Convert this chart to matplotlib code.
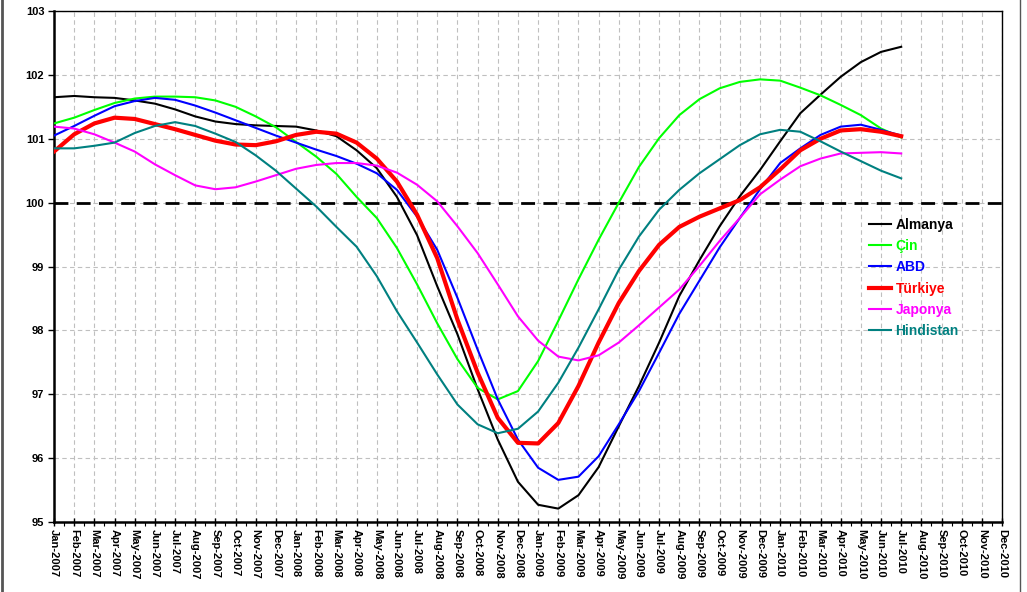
import numpy as np
import matplotlib
matplotlib.use("Agg")
import matplotlib.pyplot as plt
from matplotlib.ticker import MultipleLocator, FixedLocator

plt.rcParams['font.family'] = ['Liberation Sans', 'DejaVu Sans']

# month labels for the whole axis (Jan-2007 .. Dec-2010)
month_names = ['Jan', 'Feb', 'Mar', 'Apr', 'May', 'Jun',
               'Jul', 'Aug', 'Sep', 'Oct', 'Nov', 'Dec']
years = [2007, 2008, 2009, 2010]
tick_labels = ['{}-{}'.format(m, y) for y in years for m in month_names]

# series (Jan-2007 .. Jul-2010)
almanya = [101.65, 101.67, 101.65, 101.64, 101.60, 101.55, 101.46, 101.35, 101.27, 101.23, 101.21, 101.20,
           101.19, 101.13, 101.04, 100.82, 100.54, 100.09, 99.49, 98.69, 97.94, 97.08, 96.29, 95.63,
           95.27, 95.21, 95.42, 95.86, 96.50, 97.13, 97.81, 98.54, 99.10, 99.63, 100.10, 100.51,
           100.96, 101.40, 101.69, 101.97, 102.20, 102.36, 102.44]
cin = [101.24, 101.33, 101.45, 101.56, 101.63, 101.66, 101.66, 101.65, 101.60, 101.50, 101.35, 101.18,
       100.95, 100.72, 100.45, 100.09, 99.76, 99.29, 98.72, 98.11, 97.55, 97.10, 96.92, 97.05,
       97.52, 98.15, 98.80, 99.42, 100.00, 100.56, 101.01, 101.37, 101.62, 101.79, 101.89, 101.93,
       101.91, 101.80, 101.68, 101.53, 101.37, 101.16, 101.02]
abd = [101.05, 101.20, 101.36, 101.51, 101.59, 101.64, 101.61, 101.52, 101.41, 101.29, 101.17, 101.05,
       100.94, 100.83, 100.73, 100.61, 100.46, 100.20, 99.78, 99.26, 98.51, 97.70, 96.92, 96.29,
       95.85, 95.66, 95.71, 96.03, 96.53, 97.05, 97.65, 98.26, 98.78, 99.30, 99.76, 100.21,
       100.62, 100.85, 101.06, 101.19, 101.22, 101.14, 101.05]
turkiye = [100.80, 101.07, 101.24, 101.33, 101.31, 101.23, 101.15, 101.06, 100.97, 100.91, 100.90, 100.96,
           101.06, 101.11, 101.08, 100.94, 100.69, 100.33, 99.81, 99.13, 98.17, 97.34, 96.63, 96.24,
           96.23, 96.55, 97.13, 97.81, 98.43, 98.93, 99.34, 99.62, 99.78, 99.91, 100.04, 100.24,
           100.52, 100.82, 101.00, 101.13, 101.15, 101.11, 101.04]
japonya = [101.19, 101.16, 101.07, 100.94, 100.80, 100.60, 100.43, 100.27, 100.21, 100.24, 100.33, 100.43,
           100.53, 100.59, 100.62, 100.62, 100.58, 100.47, 100.28, 100.02, 99.63, 99.21, 98.72, 98.22,
           97.84, 97.59, 97.53, 97.61, 97.81, 98.08, 98.36, 98.64, 99.01, 99.40, 99.76, 100.13,
           100.36, 100.57, 100.69, 100.77, 100.78, 100.79, 100.77]
hindistan = [100.85, 100.85, 100.89, 100.94, 101.09, 101.20, 101.26, 101.20, 101.08, 100.95, 100.74, 100.50,
             100.22, 99.94, 99.62, 99.31, 98.85, 98.30, 97.81, 97.31, 96.84, 96.53, 96.39, 96.46,
             96.73, 97.18, 97.73, 98.33, 98.95, 99.47, 99.89, 100.20, 100.46, 100.68, 100.90, 101.07,
             101.14, 101.11, 100.96, 100.80, 100.65, 100.50, 100.38]

series_names = ['Almanya', 'Çin', 'ABD', 'Türkiye', 'Japonya', 'Hindistan']
series_values = [almanya, cin, abd, turkiye, japonya, hindistan]
series_colors = ['#000000', '#00ff00', '#0000ff', '#ff0000', '#ff00ff', '#008080']
series_widths = [1.5, 1.5, 1.5, 3.0, 1.5, 1.5]

fig = plt.figure(figsize=(10.27, 5.92), dpi=100)
ax = fig.add_axes([0.0526, 0.1182, 0.9231, 0.8632])

for name, vals, col, lw in zip(series_names, series_values, series_colors, series_widths):
    x = np.arange(len(vals))
    ax.plot(x, vals, color=col, lw=lw, label=name, zorder=3)

# reference line at 100
ax.axhline(100, color='black', lw=2, ls=(0, (5, 3)), zorder=2)

ax.set_xlim(0, len(tick_labels) - 1)
ax.set_ylim(95, 103)
ax.xaxis.set_major_locator(FixedLocator(np.arange(len(tick_labels))))
ax.xaxis.set_minor_locator(FixedLocator(np.arange(len(tick_labels) - 1) + 0.5))
ax.set_xticklabels(tick_labels, rotation=270, fontsize=8, fontweight='bold')
ax.yaxis.set_major_locator(MultipleLocator(1))
for lab in ax.get_yticklabels():
    lab.set_fontweight('bold')
    lab.set_fontsize(8)

ax.tick_params(axis='x', which='major', direction='inout', length=6, width=1, pad=2)
ax.tick_params(axis='x', which='minor', direction='out', length=3, width=0.8)
ax.tick_params(axis='y', which='major', direction='out', length=4, width=1, pad=3)

ax.grid(True, which='major', color='#bfbfbf', ls=(0, (4, 3)), lw=0.8, zorder=0)

ax.spines['left'].set_linewidth(1.8)
ax.spines['bottom'].set_linewidth(1.8)
ax.spines['top'].set_linewidth(1.0)
ax.spines['right'].set_linewidth(1.0)

leg = ax.legend(loc='upper left', bbox_to_anchor=(0.854, 0.606), frameon=False,
                handlelength=1.6, handletextpad=0.3, labelspacing=0.52, borderaxespad=0,
                prop={'weight': 'bold', 'size': 10}, labelcolor='linecolor')

# thin outer frame of the picture
fig.add_artist(plt.Line2D([0.002, 0.002], [0, 1], color='#555555', lw=2, transform=fig.transFigure))
fig.add_artist(plt.Line2D([0.993, 0.993], [0, 1], color='#555555', lw=1, transform=fig.transFigure))

fig.savefig('out.png', dpi=100)
